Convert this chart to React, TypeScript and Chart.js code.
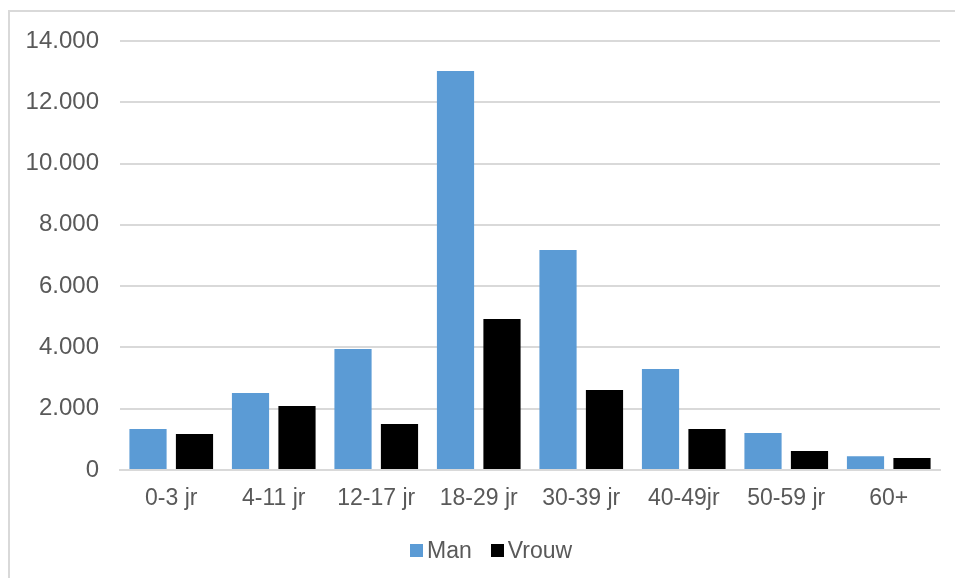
import React, { useEffect, useRef } from "react";
import { Chart, registerables } from "chart.js";

Chart.register(...registerables);

const categories = ["0-3 jr", "4-11 jr", "12-17 jr", "18-29 jr", "30-39 jr", "40-49jr", "50-59 jr", "60+"];
const seriesNames = ["Man", "Vrouw"];
const seriesColors = ["#5B9BD5", "#000000"];
const manValues = [1340, 2510, 3950, 13020, 7180, 3300, 1210, 450];
const vrouwValues = [1175, 2090, 1500, 4930, 2610, 1340, 620, 390];
const yMax = 14000;
const yStep = 2000;

const FONT = "'Liberation Sans', Arial, sans-serif";
const TEXT = "#595959";

function fmt(v: number): string {
  return String(Math.round(v)).replace(/\B(?=(\d{3})+(?!\d))/g, ".");
}

export default function App() {
  const ref = useRef<HTMLCanvasElement | null>(null);
  useEffect(() => {
    if (!ref.current) return;
    const chart = new Chart(ref.current, {
      type: "bar",
      data: {
        labels: categories,
        datasets: [
          { label: seriesNames[0], data: manValues, backgroundColor: seriesColors[0], categoryPercentage: 0.907, barPercentage: 0.8 },
          { label: seriesNames[1], data: vrouwValues, backgroundColor: seriesColors[1], categoryPercentage: 0.907, barPercentage: 0.8 },
        ],
      },
      options: {
        animation: false,
        responsive: false,
        maintainAspectRatio: false,
        layout: { padding: { left: 0, right: 15, top: 41, bottom: 47 } },
        scales: {
          x: {
            grid: { display: false, drawTicks: false },
            border: { color: "#d9d9d9", width: 2 },
            ticks: { color: TEXT, font: { family: FONT, size: 23 }, padding: 15, maxRotation: 0 },
            afterFit: (s: any) => { s.height = 61; },
          },
          y: {
            min: 0,
            max: yMax,
            grid: { color: "#d9d9d9", lineWidth: 2, drawTicks: false },
            border: { display: false },
            ticks: { stepSize: yStep, color: TEXT, font: { family: FONT, size: 24 }, padding: 21, callback: (v: any) => fmt(Number(v)) },
            afterFit: (s: any) => { s.width = 120; },
          },
        },
        plugins: {
          legend: { display: false },
          tooltip: { enabled: false },
        },
      },
    });
    return () => chart.destroy();
  }, []);
  return (
    <div style={{ position: "fixed", left: 0, top: 0, width: 955, height: 578, background: "#fff", overflow: "hidden" }}>
      <div style={{ position: "absolute", left: 8, top: 10, width: 1000, height: 1000, border: "2px solid #d9d9d9" }} />
      <canvas ref={ref} width={955} height={578} style={{ position: "absolute", left: 0, top: 0 }} />
      <div style={{ position: "absolute", left: 410, top: 537, height: 27, display: "flex", alignItems: "center", fontFamily: FONT, fontSize: 23, color: TEXT, lineHeight: "27px", whiteSpace: "nowrap" }}>
        {seriesNames.map((n, i) => (
          <div key={n} style={{ display: "flex", alignItems: "center", marginRight: 19 }}>
            <span style={{ display: "inline-block", width: 13, height: 13, background: seriesColors[i], marginRight: 4 }} />
            <span>{n}</span>
          </div>
        ))}
      </div>
    </div>
  );
}
